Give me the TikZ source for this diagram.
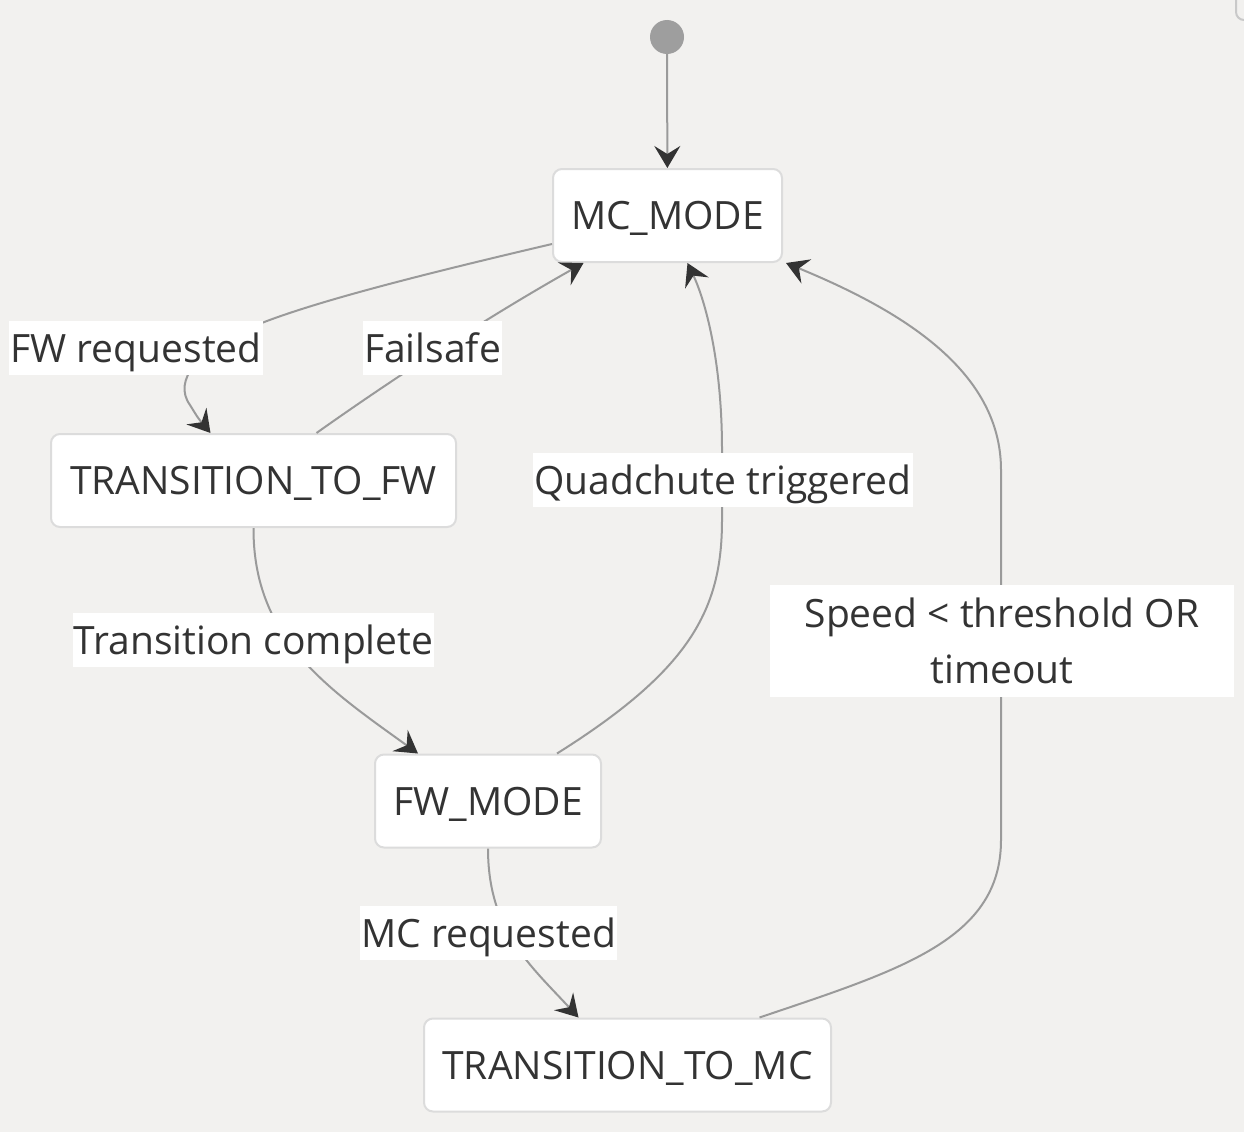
\documentclass[tikz,border=0pt]{standalone}
\usepackage{fontspec}
\setmainfont{Open Sans}
\usetikzlibrary{arrows.meta}
\definecolor{bg}{HTML}{F2F1EF}
\definecolor{edgec}{HTML}{9A9A9A}
\definecolor{tipc}{HTML}{333333}
\definecolor{nodeb}{HTML}{DCDCDC}
\definecolor{txt}{HTML}{333333}
\definecolor{startc}{HTML}{9E9E9E}
\newcommand{\fsz}{\fontsize{39}{56}\selectfont}
\tikzset{
 state/.style={draw=nodeb, line width=2pt, fill=white, rounded corners=9pt, minimum height=93pt, inner xsep=18pt, font=\fsz, text=txt, text height=28pt, text depth=0pt},
 lbl/.style={fill=white, inner xsep=1pt, inner ysep=0pt, minimum height=54pt, font=\fsz, text=txt, text height=28pt, text depth=0pt},
 lbltwo/.style={fill=white, inner sep=0pt, font=\fsz, text=txt, align=center},
 edge/.style={draw=edgec, line width=2pt, -{Stealth[length=22pt,width=26pt,inset=8pt,color=tipc]}}
}
\begin{document}
\begin{tikzpicture}[x=1pt,y=-1pt]
\fill[bg] (0,0) rectangle (1244,1132);
\useasboundingbox (0,0) rectangle (1244,1132);
\begin{scope}
\clip (0,0) rectangle (1244,1132);
\draw[nodeb!80!gray, line width=2pt, rounded corners=8pt] (1236,-30) rectangle (1270,20);
\end{scope}
% states
\node[circle, fill=startc, minimum size=34pt, inner sep=0pt] (start) at (667,37) {};
\node[state, minimum width=229pt] (mc) at (667.5,215.5) {MC\_MODE};
\node[state, minimum width=405pt] (tfw) at (253.5,480.5) {TRANSITION\_TO\_FW};
\node[state, minimum width=226pt] (fw) at (488,801) {FW\_MODE};
\node[state, minimum width=407pt] (tmc) at (627.5,1065) {TRANSITION\_TO\_MC};
% edges
\draw[edge] (start) -- (mc);
\draw[edge] ([yshift=19pt]mc.south west) .. controls (420,275) and (300,305) .. (245,330)
   .. controls (200,350) and (172,380) .. (190,405) .. controls (198,418) .. ([xshift=-43pt]tfw.north);
\draw[edge] ([xshift=63pt]tfw.north) .. controls (370,395) and (470,327) .. ([xshift=-84pt]mc.south);
\draw[edge] (tfw.south) .. controls (253,640) and (330,690) .. ([xshift=-70pt]fw.north);
\draw[edge] ([xshift=69pt]fw.north) .. controls (690,670) and (722,610) .. (722,520) -- (722,450)
   .. controls (722,360) and (705,300) .. ([xshift=20pt]mc.south);
\draw[edge] (fw.south) .. controls (488,930) and (530,965) .. ([xshift=-49pt]tmc.north);
\draw[edge] ([xshift=132pt]tmc.north) .. controls (900,970) and (1001,940) .. (1001,840) -- (1001,470)
   .. controls (1001,370) and (900,310) .. ([xshift=3pt]mc.south east);
% labels
\node[lbl] (l1) at (136,348) {FW requested};
\node[lbl] (l2) at (432.5,348) {Failsafe};
\node[lbl] (l3) at (723,480) {Quadchute triggered};
\node[lbl] (l4) at (253.5,640) {Transition complete};
\node[lbl] (l6) at (488.5,933) {MC requested};
\node[lbltwo, minimum width=464pt, minimum height=112pt] (l5) at (1002,641) {Speed < threshold OR\\timeout};
\end{tikzpicture}
\end{document}
